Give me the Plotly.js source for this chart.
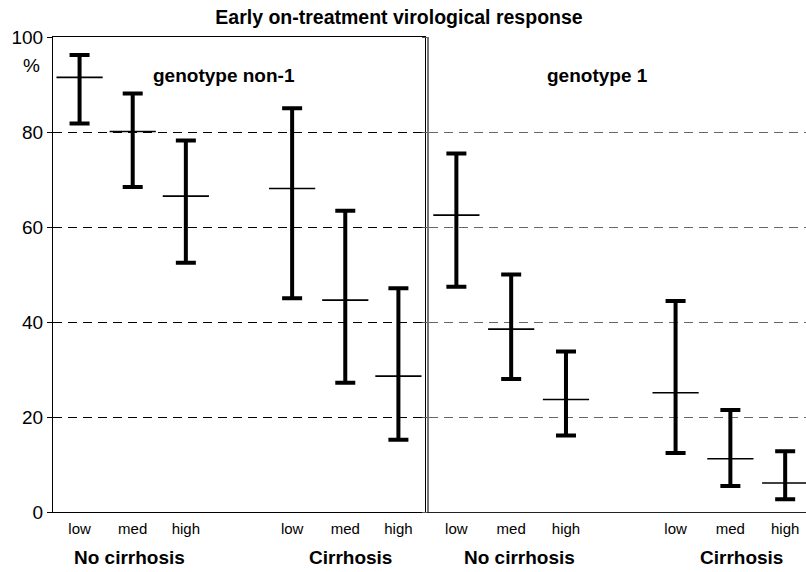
<!DOCTYPE html>
<html>
<head>
<meta charset="utf-8">
<script src="https://cdn.plot.ly/plotly-3.0.1.min.js"></script>
<style>html,body{margin:0;padding:0;background:#fff;}#chart{width:806px;height:572px;}</style>
</head>
<body>
<div id="chart"></div>
<script>
// ---- data ----
const categories = ['low', 'med', 'high', 'low', 'med', 'high'];
const cirrhosisGroups = ['No cirrhosis', 'No cirrhosis', 'No cirrhosis', 'Cirrhosis', 'Cirrhosis', 'Cirrhosis'];

const nonG1Center = [91.5, 80.1, 66.5, 68.1, 44.6, 28.6];
const nonG1Upper  = [96.2, 88.1, 78.2, 85.0, 63.4, 47.1];
const nonG1Lower  = [81.8, 68.4, 52.5, 45.0, 27.2, 15.2];

const g1Center = [62.5, 38.5, 23.7, 25.1, 11.2, 6.1];
const g1Upper  = [75.5, 50.0, 33.8, 44.4, 21.5, 12.8];
const g1Lower  = [47.4, 28.0, 16.1, 12.4, 5.5, 2.7];

const yTicks = [0, 20, 40, 60, 80, 100];

// slot positions: one empty slot between the two cirrhosis groups
const slots = categories.map((c, i) => i + (cirrhosisGroups[i] === 'Cirrhosis' ? 1 : 0));

const FONT = 'Arial, "Liberation Sans", sans-serif';

function panel(center, upper, lower, xa, ya) {
  return {
    type: 'scatter', mode: 'markers', xaxis: xa, yaxis: ya,
    x: slots, y: center,
    marker: {symbol: 'line-ew', size: 33, color: '#000', line: {color: '#000', width: 1.6}},
    error_y: {
      type: 'data', symmetric: false,
      array: upper.map((u, i) => u - center[i]),
      arrayminus: lower.map((l, i) => center[i] - l),
      color: '#000', thickness: 4, width: 10
    },
    hoverinfo: 'y', showlegend: false
  };
}

const traces = [
  panel(nonG1Center, nonG1Upper, nonG1Lower, 'x', 'y'),
  panel(g1Center, g1Upper, g1Lower, 'x2', 'y2')
];

const xCommon = {
  tickmode: 'array', tickvals: slots, ticktext: categories,
  ticks: 'outside', ticklen: 3, tickcolor: 'rgba(0,0,0,0)',
  showgrid: false, zeroline: false,
  tickfont: {family: FONT, size: 15, color: '#000'}, fixedrange: true
};

const layout = {
  width: 806, height: 572,
  margin: {l: 53, r: 0, t: 37, b: 60},
  paper_bgcolor: '#fff', plot_bgcolor: 'rgba(0,0,0,0)',
  font: {family: FONT, color: '#000'},
  title: {
    text: '<b>Early on-treatment virological response</b>',
    font: {family: FONT, size: 19.5, color: '#000'},
    x: 0.495, xanchor: 'center', y: 0.970, yanchor: 'middle'
  },
  xaxis: Object.assign({}, xCommon, {
    domain: [0, 0.494], range: [-0.5, 6.5],
    showline: true, linecolor: '#000', linewidth: 1, mirror: true
  }),
  yaxis: {
    domain: [0, 1], range: [0, 100], tickvals: yTicks,
    ticks: 'outside', ticklen: 5, tickcolor: '#000', tickwidth: 1,
    showgrid: true, gridcolor: '#000', gridwidth: 1, griddash: '9px,6px',
    zeroline: false, showline: true, linecolor: '#000', linewidth: 1, mirror: true,
    tickfont: {family: FONT, size: 19, color: '#000'}, fixedrange: true
  },
  xaxis2: Object.assign({}, xCommon, {
    domain: [0.4993, 1], range: [-0.5, 6.38], anchor: 'y2',
    showline: true, linecolor: '#222', linewidth: 1
  }),
  yaxis2: {
    domain: [0, 1], range: [0, 100], tickvals: yTicks, anchor: 'x2',
    showticklabels: false, ticks: 'outside', ticklen: 5, tickcolor: '#555',
    showgrid: true, gridcolor: '#666', gridwidth: 1, griddash: '9px,6px',
    zeroline: false, showline: true, linecolor: '#777', linewidth: 1.5, fixedrange: true
  },
  annotations: [
    {text: '%', xref: 'paper', yref: 'paper', x: 0, xanchor: 'right', xshift: -11,
     y: 0.941, yanchor: 'middle', showarrow: false, font: {family: FONT, size: 19}},
    {text: '<b>genotype non-1</b>', xref: 'x', yref: 'y', x: 2.71, y: 91.8,
     xanchor: 'center', yanchor: 'middle', showarrow: false, font: {family: FONT, size: 19}},
    {text: '<b>genotype 1</b>', xref: 'x2', yref: 'y2', x: 2.58, y: 92,
     xanchor: 'center', yanchor: 'middle', showarrow: false, font: {family: FONT, size: 19}},
    {text: '<b>No cirrhosis</b>', xref: 'x', yref: 'paper', x: 0.94, y: -0.095,
     xanchor: 'center', yanchor: 'middle', showarrow: false, font: {family: FONT, size: 19}},
    {text: '<b>Cirrhosis</b>', xref: 'x', yref: 'paper', x: 5.1, y: -0.095,
     xanchor: 'center', yanchor: 'middle', showarrow: false, font: {family: FONT, size: 19}},
    {text: '<b>No cirrhosis</b>', xref: 'x2', yref: 'paper', x: 1.16, y: -0.095,
     xanchor: 'center', yanchor: 'middle', showarrow: false, font: {family: FONT, size: 19}},
    {text: '<b>Cirrhosis</b>', xref: 'x2', yref: 'paper', x: 5.2, y: -0.095,
     xanchor: 'center', yanchor: 'middle', showarrow: false, font: {family: FONT, size: 19}}
  ]
};

Plotly.newPlot('chart', traces, layout, {displayModeBar: false, staticPlot: true});
</script>
</body>
</html>
